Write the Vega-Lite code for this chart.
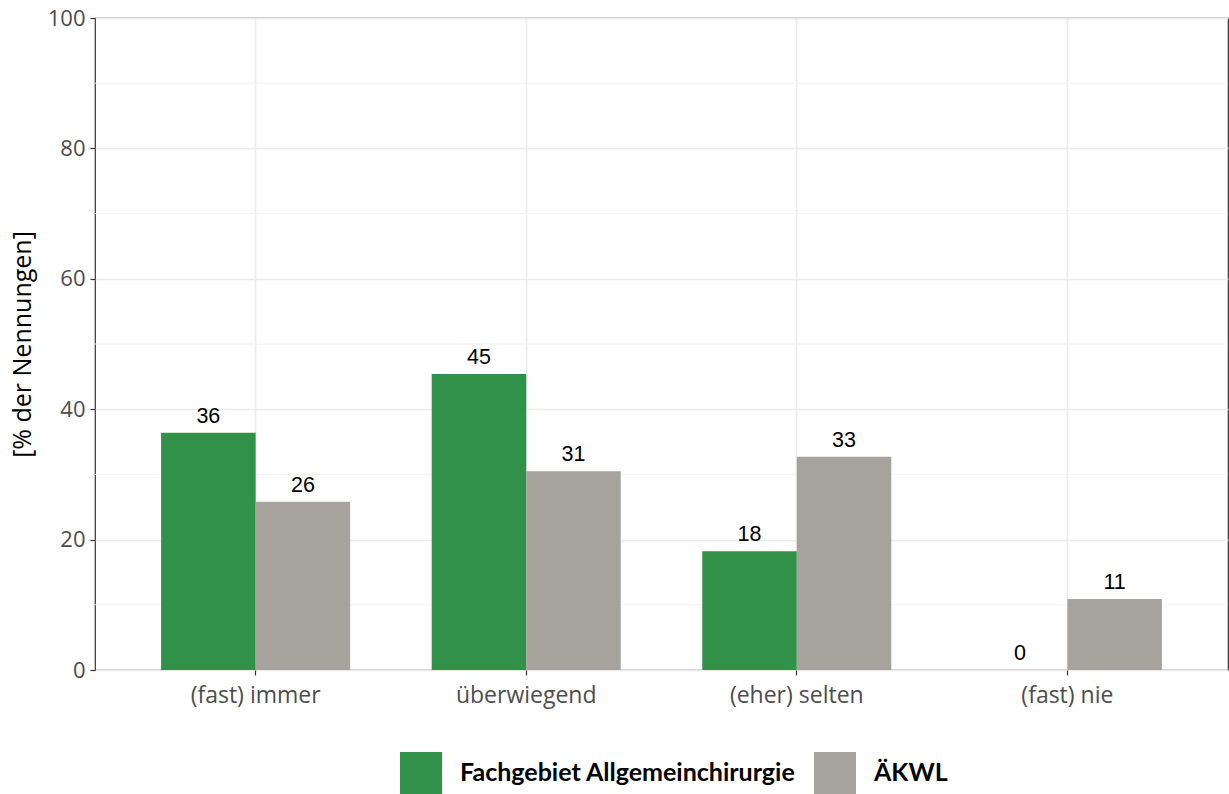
{
  "$schema": "https://vega.github.io/schema/vega-lite/v6.json",
  "autosize": {"type": "none"},
  "width": 1133,
  "height": 652,
  "padding": {"left": 95, "top": 18, "right": 1, "bottom": 124},
  "background": "white",
  "config": {
    "view": {"stroke": "#333333", "strokeWidth": 1.2},
    "axis": {"labelFont": "Open Sans", "titleFont": "Open Sans"},
    "text": {"font": "Liberation Sans"}
  },
  "data": {
    "values": [
      {"kategorie": "(fast) immer", "gruppe": "Fachgebiet Allgemeinchirurgie", "wert": 36.4, "label": "36"},
      {"kategorie": "(fast) immer", "gruppe": "ÄKWL", "wert": 25.8, "label": "26"},
      {"kategorie": "überwiegend", "gruppe": "Fachgebiet Allgemeinchirurgie", "wert": 45.4, "label": "45"},
      {"kategorie": "überwiegend", "gruppe": "ÄKWL", "wert": 30.5, "label": "31"},
      {"kategorie": "(eher) selten", "gruppe": "Fachgebiet Allgemeinchirurgie", "wert": 18.2, "label": "18"},
      {"kategorie": "(eher) selten", "gruppe": "ÄKWL", "wert": 32.7, "label": "33"},
      {"kategorie": "(fast) nie", "gruppe": "Fachgebiet Allgemeinchirurgie", "wert": 0, "label": "0"},
      {"kategorie": "(fast) nie", "gruppe": "ÄKWL", "wert": 10.9, "label": "11"}
    ]
  },
  "encoding": {
    "x": {
      "field": "kategorie", "type": "nominal",
      "sort": ["(fast) immer", "überwiegend", "(eher) selten", "(fast) nie"],
      "scale": {"paddingInner": 0.3013, "paddingOuter": 0.2443},
      "axis": {
        "title": null, "labelAngle": 0, "labelFontSize": 23, "labelColor": "#4D4D4D",
        "labelPadding": 9, "tickColor": "#333333", "tickSize": 5, "tickWidth": 1.2,
        "domain": false, "grid": true, "gridColor": "#EBEBEB", "gridWidth": 1.6, "bandPosition": 0.5
      }
    },
    "xOffset": {"field": "gruppe", "type": "nominal", "sort": ["Fachgebiet Allgemeinchirurgie", "ÄKWL"]},
    "y": {
      "field": "wert", "type": "quantitative",
      "scale": {"domain": [0, 100], "nice": false},
      "axis": {
        "title": "[% der Nennungen]", "titleFontSize": 25, "titleFontWeight": "normal", "titleColor": "#000000",
        "titlePadding": 12, "values": [0, 20, 40, 60, 80, 100],
        "labelFontSize": 22, "labelColor": "#4D4D4D", "labelPadding": 5,
        "tickColor": "#333333", "tickSize": 5, "tickWidth": 1.2, "domain": false,
        "grid": true, "gridColor": "#EBEBEB", "gridWidth": 1.6
      }
    }
  },
  "layer": [
    {
      "mark": {"type": "rule", "color": "#F2F2F2", "strokeWidth": 1},
      "data": {"values": [{"g": 10}, {"g": 30}, {"g": 50}, {"g": 70}, {"g": 90}]},
      "encoding": {"x": null, "xOffset": null, "y": {"field": "g", "type": "quantitative"}}
    },
    {
      "mark": {"type": "bar"},
      "encoding": {
        "color": {
          "field": "gruppe", "type": "nominal",
          "scale": {"domain": ["Fachgebiet Allgemeinchirurgie", "ÄKWL"], "range": ["#329148", "#A6A39C"]},
          "legend": {
            "title": null, "orient": "none", "direction": "horizontal", "legendX": 305, "legendY": 734,
            "symbolType": "square", "symbolSize": 1764, "symbolStrokeWidth": 0, "symbolOpacity": 1,
            "labelFont": "Lato", "labelFontWeight": "bold", "labelFontSize": 25, "labelColor": "#000000",
            "labelOffset": 18, "columnPadding": 18, "labelLimit": 600, "padding": 0
          }
        }
      }
    },
    {
      "mark": {"type": "text", "baseline": "alphabetic", "dy": -10, "fontSize": 21.5, "color": "#000000"},
      "encoding": {"text": {"field": "label"}}
    }
  ]
}
